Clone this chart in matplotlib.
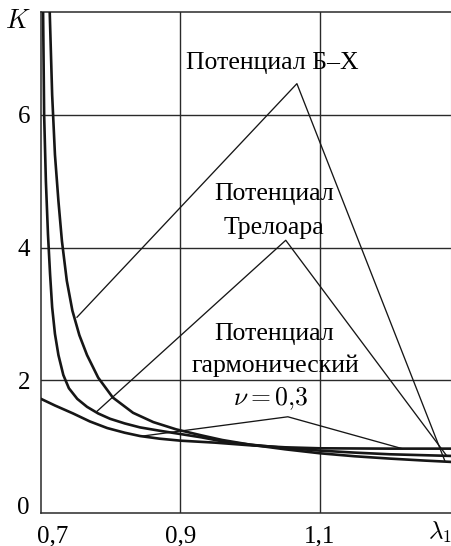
import matplotlib
matplotlib.use("Agg")
import matplotlib.pyplot as plt
from matplotlib.transforms import ScaledTranslation

plt.rcParams['font.family'] = ['Liberation Serif', 'DejaVu Serif']
plt.rcParams['mathtext.fontset'] = 'cm'

# curves K(lambda1)
lam_bh = [0.7125, 0.716, 0.720, 0.725, 0.730, 0.737, 0.745, 0.755, 0.766, 0.782,
          0.803, 0.832, 0.861, 0.894, 0.93, 0.96, 1.00, 1.05, 1.10, 1.15, 1.20, 1.25, 1.288]
k_bh = [7.55, 6.3, 5.4, 4.7, 4.1, 3.5, 3.05, 2.68, 2.38, 2.04,
        1.74, 1.51, 1.37, 1.26, 1.17, 1.10, 1.03, 0.96, 0.90, 0.855, 0.82, 0.79, 0.77]

lam_tr = [0.703, 0.7045, 0.707, 0.710, 0.713, 0.716, 0.720, 0.725, 0.732, 0.740,
          0.752, 0.766, 0.782, 0.799, 0.82, 0.842, 0.87, 0.894,
          0.93, 0.96, 1.00, 1.05, 1.10, 1.15, 1.20, 1.288]
k_tr = [7.55, 6.0, 5.0, 4.2, 3.6, 3.1, 2.7, 2.38, 2.08, 1.88,
        1.72, 1.60, 1.50, 1.42, 1.35, 1.29, 1.24, 1.20,
        1.14, 1.08, 1.03, 0.98, 0.94, 0.91, 0.885, 0.86]

lam_harm = [0.70, 0.72, 0.746, 0.77, 0.795, 0.82, 0.842, 0.87, 0.90, 0.95,
            1.00, 1.05, 1.10, 1.20, 1.288]
k_harm = [1.72, 1.62, 1.50, 1.38, 1.28, 1.21, 1.16, 1.12, 1.09, 1.06,
          1.02, 0.99, 0.975, 0.97, 0.97]

# label leaders: (left end, apex, right end)
lead_bh = [(0.7516, 2.95), (1.067, 6.47), (1.279, 0.79)]
lead_tr = [(0.779, 1.52), (1.051, 4.11), (1.282, 0.86)]
lead_harm = [(0.846, 1.16), (1.054, 1.45), (1.218, 0.97)]

xticks = [0.7, 0.9, 1.1]
xticklabels = ['0,7', '0,9', '1,1']
yticks = [0, 2, 4, 6]

fig = plt.figure(figsize=(4.52, 5.46), dpi=100)
ax = fig.add_axes([41 / 452, 33 / 546, 410 / 452, 501 / 546])
ax.set_xlim(0.7, 1.288)
ax.set_ylim(0, 7.55)

for x in [0.9, 1.1]:
    ax.axvline(x, color='#2a2a2a', lw=1.0, zorder=1)
for y in [2, 4, 6]:
    ax.axhline(y, color='#2a2a2a', lw=1.0, zorder=1)

for lam, k in [(lam_bh, k_bh), (lam_tr, k_tr), (lam_harm, k_harm)]:
    ax.plot(lam, k, color='#161616', lw=1.9, solid_joinstyle='round', zorder=3)

for lead in [lead_bh, lead_tr, lead_harm]:
    xs = [p[0] for p in lead]
    ys = [p[1] for p in lead]
    ax.plot(xs, ys, color='#161616', lw=0.95, zorder=2)

fs = 18.5
ax.text(1.032, 6.78, 'Потенциал Б–Х', ha='center', va='center', fontsize=fs)
ax.text(1.034, 4.8, 'Потенциал', ha='center', va='center', fontsize=fs)
ax.text(1.034, 4.29, 'Трелоара', ha='center', va='center', fontsize=fs)
ax.text(1.034, 2.70, 'Потенциал', ha='center', va='center', fontsize=fs)
ax.text(1.036, 2.22, 'гармонический', ha='center', va='center', fontsize=fs)
ax.text(1.030, 1.72, r'$\nu=0{,}3$', ha='center', va='center', fontsize=fs)

ax.set_xticks(xticks + [1.272])
ax.set_xticklabels(xticklabels + [r'$\lambda_1$'], fontsize=18)
ax.set_yticks(yticks)
ax.set_yticklabels([str(v) for v in yticks], fontsize=18)
ax.tick_params(axis='x', length=0, pad=9)
ax.tick_params(axis='y', length=0, pad=8)

# shift the corner labels apart
xl = ax.get_xticklabels()[0]
xl.set_transform(xl.get_transform() + ScaledTranslation(12 / 100, 0, fig.dpi_scale_trans))
yl = ax.get_yticklabels()[0]
yl.set_transform(yl.get_transform() + ScaledTranslation(0, 7 / 100, fig.dpi_scale_trans))
lam_label = ax.get_xticklabels()[-1]
lam_label.set_transform(lam_label.get_transform() + ScaledTranslation(0, 6 / 100, fig.dpi_scale_trans))

fig.text(18 / 452, 1 - 22 / 546, r'$K$', ha='center', va='center', fontsize=19)

for side in ['left', 'bottom', 'top']:
    ax.spines[side].set_color('#2a2a2a')
    ax.spines[side].set_linewidth(1.1)
ax.spines['right'].set_color('#bbbbbb')

fig.savefig('out.png', dpi=100)
